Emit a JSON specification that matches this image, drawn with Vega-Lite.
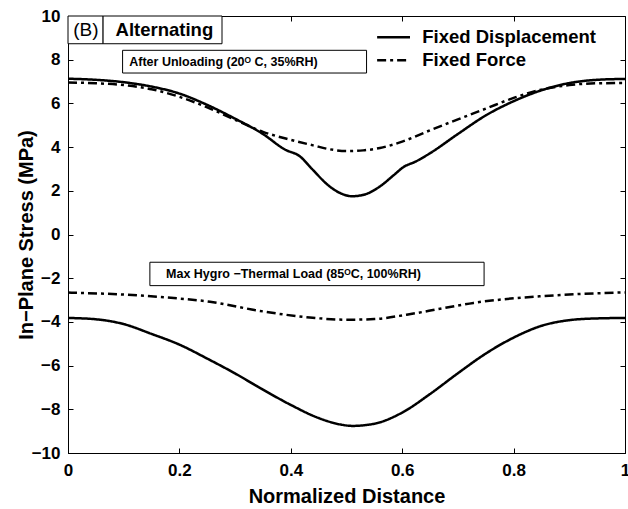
{
  "$schema": "https://vega.github.io/schema/vega-lite/v6.json",
  "width": 557,
  "height": 437,
  "autosize": {"type": "none"},
  "padding": {"left": 68, "top": 16, "right": 3, "bottom": 56},
  "background": "white",
  "config": {
    "view": {"stroke": "black", "strokeWidth": 1},
    "font": "Liberation Sans",
    "axis": {
      "grid": false,
      "domainColor": "black",
      "tickColor": "black",
      "tickSize": -5,
      "labelColor": "black",
      "labelFont": "Liberation Sans",
      "labelFontWeight": "bold",
      "labelFontSize": 17,
      "titleColor": "black",
      "titleFont": "Liberation Sans",
      "titleFontWeight": "bold",
      "labelFlush": false,
      "labelOverlap": false
    },
    "text": {"font": "Liberation Sans", "color": "black"}
  },
  "datasets": {
    "curves": [
      {"d": 0.0, "stress": 7.13, "series": "Fixed Displacement", "state": "After Unloading"},
      {"d": 0.05, "stress": 7.08, "series": "Fixed Displacement", "state": "After Unloading"},
      {"d": 0.1, "stress": 6.97, "series": "Fixed Displacement", "state": "After Unloading"},
      {"d": 0.15, "stress": 6.77, "series": "Fixed Displacement", "state": "After Unloading"},
      {"d": 0.2, "stress": 6.45, "series": "Fixed Displacement", "state": "After Unloading"},
      {"d": 0.25, "stress": 5.93, "series": "Fixed Displacement", "state": "After Unloading"},
      {"d": 0.3, "stress": 5.3, "series": "Fixed Displacement", "state": "After Unloading"},
      {"d": 0.35, "stress": 4.6, "series": "Fixed Displacement", "state": "After Unloading"},
      {"d": 0.39, "stress": 3.88, "series": "Fixed Displacement", "state": "After Unloading"},
      {"d": 0.415, "stress": 3.6, "series": "Fixed Displacement", "state": "After Unloading"},
      {"d": 0.44, "stress": 2.95, "series": "Fixed Displacement", "state": "After Unloading"},
      {"d": 0.465, "stress": 2.3, "series": "Fixed Displacement", "state": "After Unloading"},
      {"d": 0.49, "stress": 1.88, "series": "Fixed Displacement", "state": "After Unloading"},
      {"d": 0.51, "stress": 1.75, "series": "Fixed Displacement", "state": "After Unloading"},
      {"d": 0.535, "stress": 1.85, "series": "Fixed Displacement", "state": "After Unloading"},
      {"d": 0.56, "stress": 2.2, "series": "Fixed Displacement", "state": "After Unloading"},
      {"d": 0.585, "stress": 2.72, "series": "Fixed Displacement", "state": "After Unloading"},
      {"d": 0.602, "stress": 3.08, "series": "Fixed Displacement", "state": "After Unloading"},
      {"d": 0.625, "stress": 3.35, "series": "Fixed Displacement", "state": "After Unloading"},
      {"d": 0.65, "stress": 3.72, "series": "Fixed Displacement", "state": "After Unloading"},
      {"d": 0.7, "stress": 4.6, "series": "Fixed Displacement", "state": "After Unloading"},
      {"d": 0.75, "stress": 5.45, "series": "Fixed Displacement", "state": "After Unloading"},
      {"d": 0.8, "stress": 6.1, "series": "Fixed Displacement", "state": "After Unloading"},
      {"d": 0.85, "stress": 6.6, "series": "Fixed Displacement", "state": "After Unloading"},
      {"d": 0.9, "stress": 6.93, "series": "Fixed Displacement", "state": "After Unloading"},
      {"d": 0.95, "stress": 7.08, "series": "Fixed Displacement", "state": "After Unloading"},
      {"d": 1.0, "stress": 7.12, "series": "Fixed Displacement", "state": "After Unloading"},

      {"d": 0.0, "stress": 6.96, "series": "Fixed Force", "state": "After Unloading"},
      {"d": 0.05, "stress": 6.92, "series": "Fixed Force", "state": "After Unloading"},
      {"d": 0.1, "stress": 6.84, "series": "Fixed Force", "state": "After Unloading"},
      {"d": 0.15, "stress": 6.65, "series": "Fixed Force", "state": "After Unloading"},
      {"d": 0.2, "stress": 6.3, "series": "Fixed Force", "state": "After Unloading"},
      {"d": 0.25, "stress": 5.82, "series": "Fixed Force", "state": "After Unloading"},
      {"d": 0.3, "stress": 5.25, "series": "Fixed Force", "state": "After Unloading"},
      {"d": 0.35, "stress": 4.7, "series": "Fixed Force", "state": "After Unloading"},
      {"d": 0.4, "stress": 4.33, "series": "Fixed Force", "state": "After Unloading"},
      {"d": 0.44, "stress": 4.08, "series": "Fixed Force", "state": "After Unloading"},
      {"d": 0.47, "stress": 3.9, "series": "Fixed Force", "state": "After Unloading"},
      {"d": 0.5, "stress": 3.82, "series": "Fixed Force", "state": "After Unloading"},
      {"d": 0.53, "stress": 3.85, "series": "Fixed Force", "state": "After Unloading"},
      {"d": 0.56, "stress": 3.96, "series": "Fixed Force", "state": "After Unloading"},
      {"d": 0.6, "stress": 4.25, "series": "Fixed Force", "state": "After Unloading"},
      {"d": 0.65, "stress": 4.77, "series": "Fixed Force", "state": "After Unloading"},
      {"d": 0.7, "stress": 5.27, "series": "Fixed Force", "state": "After Unloading"},
      {"d": 0.75, "stress": 5.76, "series": "Fixed Force", "state": "After Unloading"},
      {"d": 0.8, "stress": 6.25, "series": "Fixed Force", "state": "After Unloading"},
      {"d": 0.85, "stress": 6.63, "series": "Fixed Force", "state": "After Unloading"},
      {"d": 0.9, "stress": 6.84, "series": "Fixed Force", "state": "After Unloading"},
      {"d": 0.95, "stress": 6.92, "series": "Fixed Force", "state": "After Unloading"},
      {"d": 1.0, "stress": 6.93, "series": "Fixed Force", "state": "After Unloading"},

      {"d": 0.0, "stress": -3.82, "series": "Fixed Displacement", "state": "Max Load"},
      {"d": 0.05, "stress": -3.88, "series": "Fixed Displacement", "state": "Max Load"},
      {"d": 0.1, "stress": -4.1, "series": "Fixed Displacement", "state": "Max Load"},
      {"d": 0.15, "stress": -4.55, "series": "Fixed Displacement", "state": "Max Load"},
      {"d": 0.2, "stress": -5.04, "series": "Fixed Displacement", "state": "Max Load"},
      {"d": 0.25, "stress": -5.68, "series": "Fixed Displacement", "state": "Max Load"},
      {"d": 0.3, "stress": -6.36, "series": "Fixed Displacement", "state": "Max Load"},
      {"d": 0.35, "stress": -7.1, "series": "Fixed Displacement", "state": "Max Load"},
      {"d": 0.4, "stress": -7.8, "series": "Fixed Displacement", "state": "Max Load"},
      {"d": 0.45, "stress": -8.4, "series": "Fixed Displacement", "state": "Max Load"},
      {"d": 0.49, "stress": -8.7, "series": "Fixed Displacement", "state": "Max Load"},
      {"d": 0.51, "stress": -8.76, "series": "Fixed Displacement", "state": "Max Load"},
      {"d": 0.55, "stress": -8.66, "series": "Fixed Displacement", "state": "Max Load"},
      {"d": 0.6, "stress": -8.15, "series": "Fixed Displacement", "state": "Max Load"},
      {"d": 0.65, "stress": -7.3, "series": "Fixed Displacement", "state": "Max Load"},
      {"d": 0.7, "stress": -6.35, "series": "Fixed Displacement", "state": "Max Load"},
      {"d": 0.75, "stress": -5.45, "series": "Fixed Displacement", "state": "Max Load"},
      {"d": 0.8, "stress": -4.72, "series": "Fixed Displacement", "state": "Max Load"},
      {"d": 0.85, "stress": -4.18, "series": "Fixed Displacement", "state": "Max Load"},
      {"d": 0.9, "stress": -3.92, "series": "Fixed Displacement", "state": "Max Load"},
      {"d": 0.95, "stress": -3.84, "series": "Fixed Displacement", "state": "Max Load"},
      {"d": 1.0, "stress": -3.82, "series": "Fixed Displacement", "state": "Max Load"},

      {"d": 0.0, "stress": -2.66, "series": "Fixed Force", "state": "Max Load"},
      {"d": 0.1, "stress": -2.75, "series": "Fixed Force", "state": "Max Load"},
      {"d": 0.165, "stress": -2.86, "series": "Fixed Force", "state": "Max Load"},
      {"d": 0.255, "stress": -3.08, "series": "Fixed Force", "state": "Max Load"},
      {"d": 0.345, "stress": -3.5, "series": "Fixed Force", "state": "Max Load"},
      {"d": 0.434, "stress": -3.8, "series": "Fixed Force", "state": "Max Load"},
      {"d": 0.5, "stress": -3.9, "series": "Fixed Force", "state": "Max Load"},
      {"d": 0.55, "stress": -3.87, "series": "Fixed Force", "state": "Max Load"},
      {"d": 0.608, "stress": -3.67, "series": "Fixed Force", "state": "Max Load"},
      {"d": 0.668, "stress": -3.4, "series": "Fixed Force", "state": "Max Load"},
      {"d": 0.728, "stress": -3.13, "series": "Fixed Force", "state": "Max Load"},
      {"d": 0.788, "stress": -2.95, "series": "Fixed Force", "state": "Max Load"},
      {"d": 0.847, "stress": -2.83, "series": "Fixed Force", "state": "Max Load"},
      {"d": 0.92, "stress": -2.72, "series": "Fixed Force", "state": "Max Load"},
      {"d": 1.0, "stress": -2.65, "series": "Fixed Force", "state": "Max Load"}
    ],
    "boxes": [
      {"x0": 0.0, "x1": 0.063, "y0": 8.73, "y1": 10},
      {"x0": 0.063, "x1": 0.2765, "y0": 8.73, "y1": 10},
      {"x0": 0.098, "x1": 0.536, "y0": 7.39, "y1": 8.43},
      {"x0": 0.147, "x1": 0.747, "y0": -2.34, "y1": -1.27}
    ],
    "tags": [
      {"x": 0.032, "y": 9.36, "text": "(B)"}
    ],
    "heads": [
      {"x": 0.173, "y": 9.36, "text": "Alternating"}
    ],
    "notes": [
      {"x": 0.11, "y": 7.91, "text": "After Unloading (20ᴼ C, 35%RH)"},
      {"x": 0.176, "y": -1.79, "text": "Max Hygro −Thermal Load (85ᴼC, 100%RH)"}
    ],
    "key": [
      {"x0": 0.555, "x1": 0.614, "xt": 0.636, "y": 9.03, "series": "Fixed Displacement"},
      {"x0": 0.555, "x1": 0.614, "xt": 0.636, "y": 7.97, "series": "Fixed Force"}
    ]
  },
  "layer": [
    {
      "data": {"name": "curves"},
      "mark": {"type": "line", "color": "black", "strokeWidth": 2.5, "interpolate": "monotone"},
      "encoding": {
        "x": {"field": "d", "type": "quantitative",
              "scale": {"domain": [0, 1], "nice": false},
              "axis": {"values": [0, 0.2, 0.4, 0.6, 0.8, 1], "format": "~g", "labelPadding": 14,
                       "title": "Normalized Distance", "titleFontSize": 20, "titlePadding": 8}},
        "y": {"field": "stress", "type": "quantitative",
              "scale": {"domain": [-10, 10], "nice": false},
              "axis": {"values": [-10, -8, -6, -4, -2, 0, 2, 4, 6, 8, 10], "labelPadding": 13,
                       "title": "In−Plane Stress (MPa)", "titleFontSize": 20, "titlePadding": -5}},
        "strokeDash": {"field": "series", "type": "nominal",
                       "scale": {"domain": ["Fixed Displacement", "Fixed Force"], "range": [[1, 0], [9, 4, 3, 4]]},
                       "legend": null},
        "detail": {"field": "state", "type": "nominal"}
      }
    },
    {
      "data": {"name": "boxes"},
      "mark": {"type": "rect", "fill": "white", "stroke": "black", "strokeWidth": 1},
      "encoding": {
        "x": {"field": "x0", "type": "quantitative",
              "axis": {"orient": "top", "values": [0, 0.2, 0.4, 0.6, 0.8, 1], "labels": false, "title": null, "domain": false}},
        "x2": {"field": "x1"},
        "y": {"field": "y0", "type": "quantitative",
              "axis": {"orient": "right", "values": [-10, -8, -6, -4, -2, 0, 2, 4, 6, 8, 10], "labels": false, "title": null, "domain": false}},
        "y2": {"field": "y1"}
      }
    },
    {
      "data": {"name": "key"},
      "mark": {"type": "rule", "color": "black", "strokeWidth": 2.5},
      "encoding": {
        "x": {"field": "x0", "type": "quantitative", "axis": null},
        "x2": {"field": "x1"},
        "y": {"field": "y", "type": "quantitative", "axis": null},
        "strokeDash": {"field": "series", "type": "nominal",
                       "scale": {"domain": ["Fixed Displacement", "Fixed Force"], "range": [[1, 0], [9, 4, 3, 4]]},
                       "legend": null}
      }
    },
    {
      "data": {"name": "key"},
      "mark": {"type": "text", "align": "left", "baseline": "middle", "fontSize": 18.5, "fontWeight": "bold"},
      "encoding": {
        "x": {"field": "xt", "type": "quantitative", "axis": null},
        "y": {"field": "y", "type": "quantitative", "axis": null},
        "text": {"field": "series"}
      }
    },
    {
      "data": {"name": "tags"},
      "mark": {"type": "text", "align": "center", "baseline": "middle", "fontSize": 19, "fontWeight": "normal"},
      "encoding": {
        "x": {"field": "x", "type": "quantitative", "axis": null},
        "y": {"field": "y", "type": "quantitative", "axis": null},
        "text": {"field": "text"}
      }
    },
    {
      "data": {"name": "heads"},
      "mark": {"type": "text", "align": "center", "baseline": "middle", "fontSize": 18.5, "fontWeight": "bold"},
      "encoding": {
        "x": {"field": "x", "type": "quantitative", "axis": null},
        "y": {"field": "y", "type": "quantitative", "axis": null},
        "text": {"field": "text"}
      }
    },
    {
      "data": {"name": "notes"},
      "mark": {"type": "text", "align": "left", "baseline": "middle", "fontSize": 12.5, "fontWeight": "bold"},
      "encoding": {
        "x": {"field": "x", "type": "quantitative", "axis": null},
        "y": {"field": "y", "type": "quantitative", "axis": null},
        "text": {"field": "text"}
      }
    }
  ],
  "resolve": {"axis": {"x": "independent", "y": "independent"}}
}
